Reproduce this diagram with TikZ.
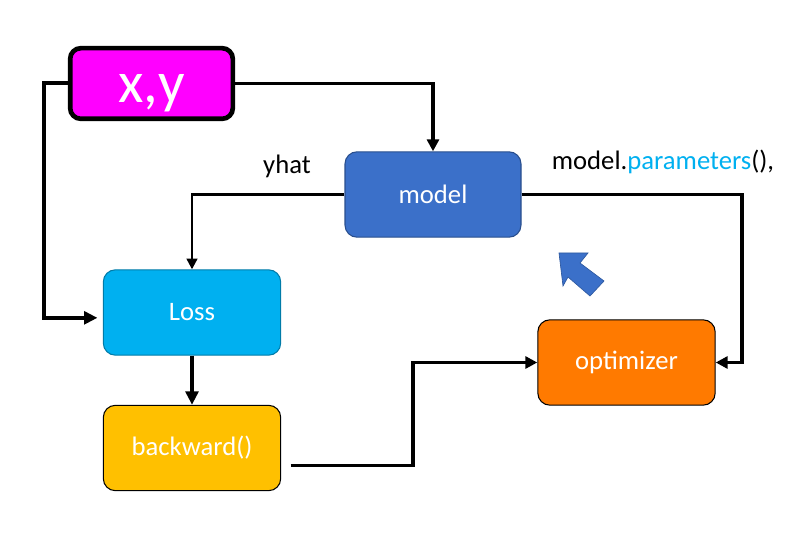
\documentclass[tikz,border=0pt]{standalone}
\usepackage{fontspec}
\setmainfont{Carlito}
\usetikzlibrary{arrows.meta}
\definecolor{cmag}{HTML}{FF00FF}
\definecolor{cmodel}{HTML}{3B70C9}
\definecolor{closs}{HTML}{00B0F0}
\definecolor{cback}{HTML}{FFC000}
\definecolor{copt}{HTML}{FF7A00}
\definecolor{cpar}{HTML}{00B0F0}
\begin{document}
\begin{tikzpicture}[x=0.75pt,y=-0.75pt,
  box/.style={draw, rounded corners=9pt, minimum width=133pt, minimum height=64pt,
    text=white, font=\fontsize{20}{24}\selectfont, inner sep=0pt, line width=0.8pt},
  lbl/.style={font=\fontsize{20}{24}\selectfont, inner sep=0pt},
  conn/.style={line width=2.4pt, -{Triangle[length=9pt,width=9pt]}},
  heavy/.style={line width=3pt, -{Triangle[length=10pt,width=9.5pt]}},
  light/.style={line width=1.7pt, -{Triangle[length=8pt,width=8pt]}}]
\useasboundingbox (0,0) rectangle (800,549);
\node[draw, line width=3.5pt, rounded corners=8pt, fill=cmag, minimum width=122pt, minimum height=53pt,
  text=white, font=\fontsize{44}{50}\selectfont, inner sep=0pt, text height=29pt, text depth=0pt] (xy) at (151.5,83.5) {x,y};
\node[box, fill=cmodel, draw=cmodel!70!black, minimum width=132pt] (model) at (433,194.5) {model};
\node[box, fill=closs, draw=closs!70!black] (loss) at (192,312.5) {Loss};
\node[box, fill=cback, draw=black] (bw) at (192,448) {backward()};
\node[box, fill=copt, draw=black] (opt) at (626.5,362.5) {optimizer};
\node[lbl] (yhat) at (287,166) {yhat};
\node[lbl] (mp) at (663,162) {model.\textcolor{cpar}{parameters}(),};
\coordinate (cl) at (44,0);
\coordinate (cr) at (742,0);
\coordinate (cm) at (413,0);
% connectors
\draw[conn] (xy.east) -- (xy.east -| model.north) -- (model.north);
\draw[heavy, shorten >=4pt] (xy.west) -- (xy.west -| cl) |- ([yshift=-4pt]loss.west);
\draw[light] (model.west) -| (loss.north);
\draw[conn] (model.east) -- (model.east -| cr) |- (opt.east);
\draw[heavy] (loss.south) -- (bw.north);
\draw[conn] ([shift={(7pt,-13pt)}]bw.east) -- ([yshift=-13pt]bw.east -| cm) |- (opt.west);
% block arrow
\fill[cmodel, draw=cmodel!80!black, line width=0.5pt] (559,253) -- (588,253) -- (580,263) -- (604,281) -- (590,296) -- (568,277) -- (563,286) -- cycle;
\end{tikzpicture}
\end{document}
